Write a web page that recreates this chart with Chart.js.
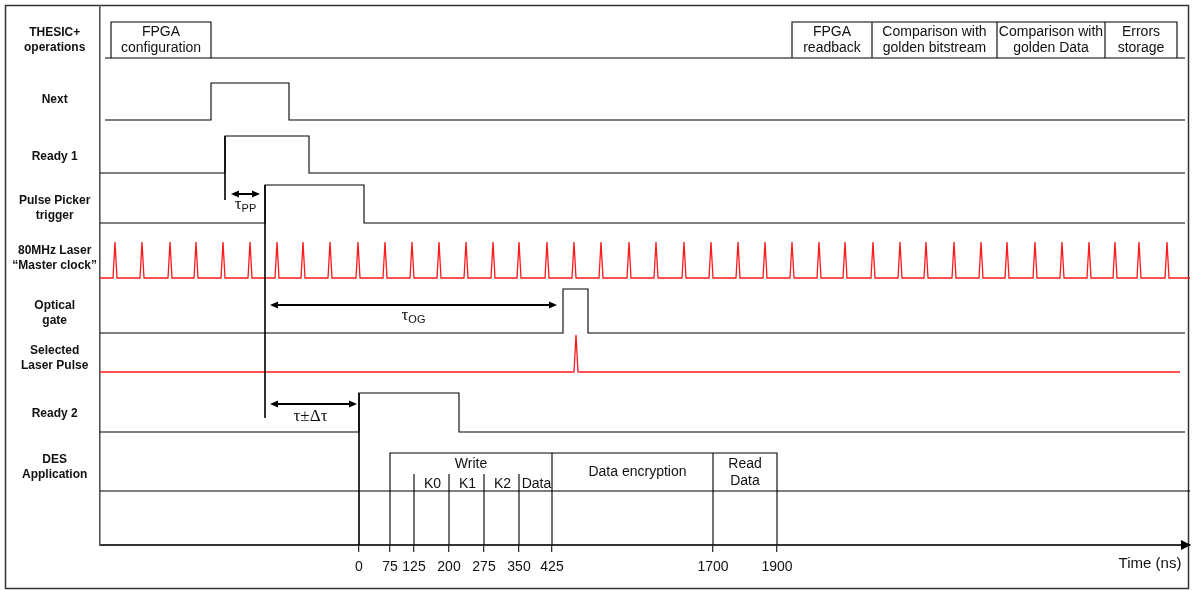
<!DOCTYPE html>
<html>
<head>
<meta charset="utf-8">
<script src="https://cdn.jsdelivr.net/npm/chart.js@4.4.1/dist/chart.umd.min.js"></script>
<style>
  html, body { margin: 0; padding: 0; background: #fff; }
</style>
</head>
<body>
<canvas id="timing" width="1192" height="590"></canvas>
<script>
// Diagram units: x runs along the (non-linear) time axis, y is height above the time axis.
const rowNames = [["THESIC+", "operations"], ["Next"], ["Ready 1"], ["Pulse Picker", "trigger"],
  ["80MHz Laser", "\u201cMaster clock\u201d"], ["Optical", "gate"], ["Selected", "Laser Pulse"], ["Ready 2"], ["DES", "Application"]];
const rowLabelY = [505, 445, 388, 337, 287, 232, 187, 131, 78];

const timeTicks = [0, 75, 125, 200, 275, 350, 425, 1700, 1900];
const timeTickX = [259, 290, 314, 349, 384, 419, 452, 613, 677];

// THESIC+ operation boxes
const opsNames = [["FPGA", "configuration"], ["FPGA", "readback"], ["Comparison with", "golden bitstream"],
  ["Comparison with", "golden Data"], ["Errors", "storage"]];
const opsStart = [11, 692, 772, 897, 1005];
const opsEnd = [111, 772, 897, 1005, 1077];
const opsLevel = [487, 523];

// square pulses: Next, Ready 1, Pulse Picker trigger, Optical gate, Ready 2
const pulseStart = [5, 0, 0, 0, 0];
const pulseLow = [425, 372, 322, 212, 113];
const pulseHigh = [462, 409, 360, 256, 152];
const pulseRise = [111, 125, 165, 463, 259];
const pulseFall = [189, 209, 264, 488, 359];
const lineEnd = 1085;

// rising edges drawn on downwards as markers
const markerX = [125, 165, 259];
const markerTop = [409, 360, 152];
const markerBottom = [345, 127, 0];

// laser pulses
const laserPeaks = [15, 42, 70, 96, 123, 150, 177, 203, 230, 258, 285, 312, 339, 366, 393, 419, 447, 474, 501, 529,
  556, 584, 611, 638, 665, 692, 719, 745, 773, 800, 826, 854, 881, 907, 935, 962, 989, 1015, 1039, 1067];
const laserLevel = [267, 303];
const selectedPeak = 476;
const selectedLevel = [173, 210];

// DES application
const desLevel = [54, 92];
const phaseNames = ["Write", "Data encryption", ["Read", "Data"]];
const phaseEdges = [290, 452, 613, 677];
const writeNames = ["K0", "K1", "K2", "Data"];
const writeEdges = [314, 349, 384, 419, 452];
const writeTop = 71;

// delay arrows
const arrowFrom = [131, 170, 170];
const arrowTo = [160, 457, 257];
const arrowY = [351, 240, 141];
const arrowText = [["\u03c4", "PP"], ["\u03c4", "OG"], ["\u03c4\u00b1\u0394\u03c4", ""]];

const BLACK = "#000";
const RED = "#ff1a1a";
const GAP = { x: 0, y: null };

function pt(x, y) { return { x: x, y: y }; }

function pulse(i) {
  return [pt(pulseStart[i], pulseLow[i]), pt(pulseRise[i], pulseLow[i]), pt(pulseRise[i], pulseHigh[i]),
    pt(pulseFall[i], pulseHigh[i]), pt(pulseFall[i], pulseLow[i]), pt(lineEnd, pulseLow[i])];
}

function opsLine() {
  const pts = [pt(5, opsLevel[0]), pt(lineEnd, opsLevel[0]), GAP];
  opsStart.forEach((s, i) => {
    pts.push(pt(s, opsLevel[0]), pt(s, opsLevel[1]), pt(opsEnd[i], opsLevel[1]), pt(opsEnd[i], opsLevel[0]), GAP);
  });
  return pts;
}

function markers() {
  const pts = [];
  markerX.forEach((x, i) => pts.push(pt(x, markerTop[i]), pt(x, markerBottom[i]), GAP));
  return pts;
}

function spikes(peaks, level, from, to) {
  const pts = [pt(from, level[0])];
  peaks.forEach((p) => pts.push(pt(p - 2, level[0]), pt(p, level[1]), pt(p + 2, level[0])));
  pts.push(pt(to, level[0]));
  return pts;
}

function desLine() {
  const last = phaseEdges[phaseEdges.length - 1];
  const pts = [pt(0, desLevel[0]), pt(1090, desLevel[0]), GAP,
    pt(phaseEdges[0], desLevel[0]), pt(phaseEdges[0], desLevel[1]), pt(last, desLevel[1]), pt(last, 0), GAP,
    pt(phaseEdges[0], desLevel[0] + 12), pt(phaseEdges[0], 0), GAP];
  phaseEdges.slice(1, -1).forEach((x) => pts.push(pt(x, desLevel[1]), pt(x, 0), GAP));
  writeEdges.slice(0, -1).forEach((x) => pts.push(pt(x, writeTop), pt(x, 0), GAP));
  return pts;
}

function lineSet(data, color, width) {
  return { data: data, showLine: true, borderColor: color, borderWidth: width, pointRadius: 0, spanGaps: false };
}

const datasets = [
  lineSet(opsLine(), BLACK, 1.1),
  lineSet(pulse(0), BLACK, 1.1),
  lineSet(pulse(1), BLACK, 1.1),
  lineSet(pulse(2), BLACK, 1.1),
  lineSet(pulse(3), BLACK, 1.1),
  lineSet(pulse(4), BLACK, 1.1),
  lineSet(markers(), BLACK, 1.6),
  lineSet(spikes(laserPeaks, laserLevel, 0, 1090), RED, 1.3),
  lineSet(spikes([selectedPeak], selectedLevel, 0, 1080), RED, 1.3),
  lineSet(desLine(), BLACK, 1.1),
];

function multiLine(ctx, lines, cx, cy, lh) {
  const top = cy - (lines.length - 1) * lh / 2;
  lines.forEach((t, k) => ctx.fillText(t, cx, top + k * lh));
}

function arrowHead(ctx, x, y, dir, len, half) {
  ctx.beginPath();
  ctx.moveTo(x, y);
  ctx.lineTo(x - dir * len, y - half);
  ctx.lineTo(x - dir * len, y + half);
  ctx.closePath();
  ctx.fill();
}

const frame = {
  id: "frame",
  beforeDraw(chart) {
    const ctx = chart.ctx;
    ctx.save();
    ctx.fillStyle = "#fff";
    ctx.fillRect(0, 0, chart.width, chart.height);
    ctx.strokeStyle = "#333";
    ctx.lineWidth = 1.5;
    ctx.strokeRect(5.5, 5.5, chart.width - 9, chart.height - 7);
    ctx.restore();
  },
};

const notes = {
  id: "notes",
  afterDraw(chart) {
    const ctx = chart.ctx;
    const xs = chart.scales.x;
    const ys = chart.scales.y;
    ctx.save();
    ctx.fillStyle = "#111";
    ctx.textAlign = "center";
    ctx.textBaseline = "middle";

    // operation boxes
    ctx.font = "14px 'Liberation Sans', Arial, sans-serif";
    opsNames.forEach((lines, i) => {
      const cx = xs.getPixelForValue((opsStart[i] + opsEnd[i]) / 2);
      multiLine(ctx, lines, cx, ys.getPixelForValue((opsLevel[0] + opsLevel[1]) / 2), 16);
    });

    // DES phases
    ctx.fillText(phaseNames[0], xs.getPixelForValue((phaseEdges[0] + phaseEdges[1]) / 2), ys.getPixelForValue(81));
    ctx.fillText(phaseNames[1], xs.getPixelForValue((phaseEdges[1] + phaseEdges[2]) / 2 + 5), ys.getPixelForValue(73));
    multiLine(ctx, phaseNames[2], xs.getPixelForValue((phaseEdges[2] + phaseEdges[3]) / 2), ys.getPixelForValue(72.5), 17);
    writeNames.forEach((t, i) => {
      ctx.fillText(t, xs.getPixelForValue((writeEdges[i] + writeEdges[i + 1]) / 2 + 1), ys.getPixelForValue(61));
    });

    // delay arrows
    ctx.strokeStyle = BLACK;
    ctx.fillStyle = BLACK;
    ctx.lineWidth = 2;
    arrowFrom.forEach((f, i) => {
      const x1 = xs.getPixelForValue(f);
      const x2 = xs.getPixelForValue(arrowTo[i]);
      const y = ys.getPixelForValue(arrowY[i]);
      ctx.beginPath();
      ctx.moveTo(x1 + 4, y);
      ctx.lineTo(x2 - 4, y);
      ctx.stroke();
      arrowHead(ctx, x1, y, -1, 8, 3.5);
      arrowHead(ctx, x2, y, 1, 8, 3.5);

      const cx = (x1 + x2) / 2;
      const [sym, sub] = arrowText[i];
      ctx.fillStyle = "#111";
      ctx.font = "17px 'Liberation Serif', 'Times New Roman', serif";
      if (sub) {
        const w1 = ctx.measureText(sym).width;
        ctx.font = "11px 'Liberation Sans', Arial, sans-serif";
        const w2 = ctx.measureText(sub).width;
        const left = cx - (w1 + w2) / 2;
        ctx.textAlign = "left";
        ctx.font = "17px 'Liberation Serif', 'Times New Roman', serif";
        ctx.fillText(sym, left, y + 11);
        ctx.font = "11px 'Liberation Sans', Arial, sans-serif";
        ctx.fillText(sub, left + w1, y + 15);
        ctx.textAlign = "center";
      } else {
        ctx.fillText(sym, cx - 3, y + 13);
      }
      ctx.fillStyle = BLACK;
    });

    // time axis arrow head and title
    const axisY = xs.top;
    arrowHead(ctx, chart.chartArea.right + 1, axisY, 1, 10, 5);
    ctx.fillStyle = "#111";
    ctx.font = "15px 'Liberation Sans', Arial, sans-serif";
    ctx.fillText("Time (ns)", xs.getPixelForValue(1050), axisY + 19);
    ctx.restore();
  },
};

new Chart(document.getElementById("timing"), {
  type: "scatter",
  data: { datasets: datasets },
  options: {
    responsive: false,
    animation: false,
    layout: { padding: { left: 6, top: 6, right: 2, bottom: 6 } },
    plugins: { legend: { display: false }, tooltip: { enabled: false } },
    elements: { line: { tension: 0 } },
    scales: {
      x: {
        type: "linear",
        min: 0,
        max: 1090,
        afterFit: (scale) => {
          scale.height = 39;
          scale.paddingLeft = 0;
          scale.paddingRight = 0;
        },
        afterBuildTicks: (scale) => { scale.ticks = timeTickX.map((v) => ({ value: v })); },
        grid: { drawOnChartArea: false, drawTicks: true, tickLength: 7, color: "#333", lineWidth: 1.3 },
        border: { color: "#333", width: 2 },
        ticks: {
          autoSkip: false,
          maxRotation: 0,
          padding: 7,
          color: "#111",
          font: { family: "'Liberation Sans', Arial, sans-serif", size: 14 },
          callback: (value, index) => timeTicks[index],
        },
      },
      y: {
        type: "linear",
        min: 0,
        max: 539,
        afterFit: (scale) => {
          scale.width = 94;
          scale.paddingTop = 0;
          scale.paddingBottom = 0;
        },
        afterBuildTicks: (scale) => { scale.ticks = rowLabelY.map((v) => ({ value: v })); },
        grid: { drawOnChartArea: false, drawTicks: false },
        border: { color: "#555", width: 1.6 },
        ticks: {
          autoSkip: false,
          crossAlign: "center",
          padding: 3,
          color: "#111",
          font: { family: "'Liberation Sans', Arial, sans-serif", size: 12, weight: "bold", lineHeight: 1.25 },
          callback: (value, index) => rowNames[index],
        },
      },
    },
  },
  plugins: [frame, notes],
});
</script>
</body>
</html>
